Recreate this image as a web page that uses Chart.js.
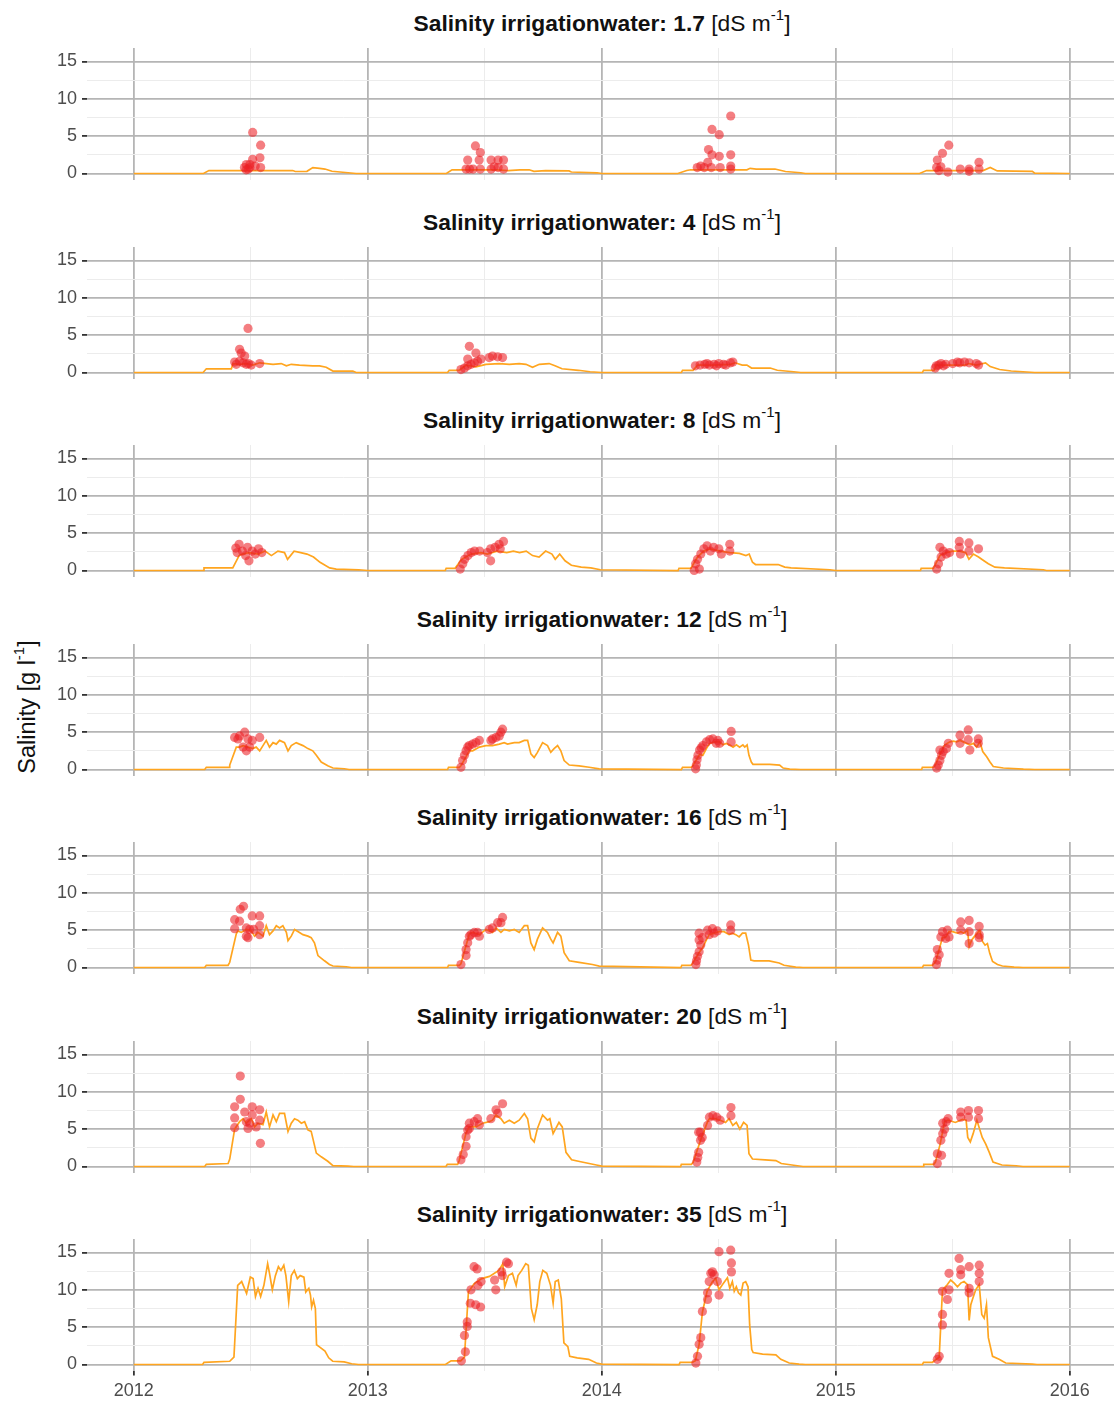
<!DOCTYPE html>
<html>
<head>
<meta charset="utf-8">
<script src="https://cdn.jsdelivr.net/npm/chart.js@4.4.1/dist/chart.umd.min.js"></script>
<style>
  html, body { margin: 0; padding: 0; background: #fff; overflow: hidden; }
  #wrap { position: relative; width: 1114px; height: 1403px; font-family: "Liberation Sans", Arial, sans-serif; }
  .strip { position: absolute; left: 87px; width: 1030px; height: 28px; line-height: 28px; text-align: center;
           font-size: 22.8px; color: #111; white-space: nowrap; }
  .strip b { font-weight: bold; }
  sup { font-size: 15px; vertical-align: baseline; position: relative; top: -11px; }
  .ytitle { position: absolute; left: -123px; top: 693px; width: 300px; height: 28px; line-height: 28px;
            text-align: center; font-size: 23.5px; color: #111; transform: rotate(-90deg); white-space: nowrap; }
  canvas { position: absolute; left: 0; }
</style>
</head>
<body>
<div id="wrap"></div>
<script>
// Irrigation water salinity of each facet [dS m-1]
const salinityLevels = ['1.7', '4', '8', '12', '16', '20', '35'];

// Axis ticks
const xYears = [2012, 2013, 2014, 2015, 2016];
const xHalfYears = [2012.5, 2013.5, 2014.5, 2015.5];
const yMajorTicks = [0, 5, 10, 15];
const yMinorTicks = [2.5, 7.5, 12.5];

// Simulated soil-water salinity (line) and measured samples (points), [decimal year, g/l]
const line_1_7 = [[2012,0],[2012.298,0],[2012.321,0.4],[2012.679,0.4],[2012.69,0.27],[2012.74,0.3],[2012.765,0.8],[2012.794,0.7],[2012.817,0.6],[2012.847,0.3],[2012.916,0.1],[2012.95,0],
  [2013.336,0],[2013.36,0.5],[2013.55,0.5],[2013.6,0.4],[2013.65,0.5],[2013.69,0.5],[2013.71,0.3],[2013.76,0.4],[2013.86,0.35],[2013.87,0.2],[2013.98,0.1],[2014,0],
  [2014.325,0],[2014.363,0.4],[2014.38,0.5],[2014.62,0.5],[2014.634,0.7],[2014.66,0.6],[2014.74,0.6],[2014.785,0.27],[2014.85,0.1],[2014.87,0],
  [2015.358,0],[2015.388,0.4],[2015.63,0.4],[2015.66,0.8],[2015.69,0.35],[2015.84,0.3],[2015.85,0.05],[2016,0]];
const obs_1_7 = [[2012.508,5.5],[2012.542,3.8],[2012.539,2.1],[2012.508,1.9],[2012.496,1.2],[2012.481,1.2],[2012.473,0.8],[2012.496,0.8],[2012.542,0.8],[2012.489,0.6],[2012.519,1.0],[2012.48,0.5],
  [2013.42,0.6],[2013.427,1.8],[2013.435,0.6],[2013.46,3.7],[2013.481,2.8],[2013.476,1.8],[2013.481,0.6],[2013.45,0.6],[2013.527,1.8],[2013.527,0.6],[2013.557,1.8],[2013.557,0.8],[2013.58,1.8],[2013.58,0.6],[2013.54,0.9],
  [2014.471,5.9],[2014.502,5.2],[2014.551,7.7],[2014.456,3.2],[2014.471,2.5],[2014.502,2.3],[2014.551,2.5],[2014.423,1.0],[2014.408,0.8],[2014.438,0.8],[2014.468,0.8],[2014.506,0.8],[2014.551,1.0],[2014.551,0.6],[2014.453,1.5],
  [2015.483,3.8],[2015.456,2.7],[2015.434,1.8],[2015.431,0.8],[2015.441,0.4],[2015.479,0.2],[2015.532,0.6],[2015.57,0.3],[2015.57,0.6],[2015.612,1.5],[2015.612,0.6],[2015.449,0.9]];

const line_4 = [[2012,0],[2012.296,0],[2012.31,0.5],[2012.417,0.5],[2012.424,1.2],[2012.452,1.1],[2012.481,1.2],[2012.509,1.0],[2012.538,1.3],[2012.566,1.2],[2012.595,1.1],[2012.63,1.2],[2012.652,0.9],[2012.673,1.1],[2012.708,1.0],[2012.765,0.9],[2012.794,0.9],[2012.822,0.7],[2012.851,0.2],[2012.936,0.2],[2012.95,0],
  [2013.341,0],[2013.348,0.3],[2013.391,0.3],[2013.42,1.0],[2013.462,0.75],[2013.505,1.1],[2013.562,1.2],[2013.605,1.1],[2013.647,1.2],[2013.676,1.1],[2013.704,0.7],[2013.733,1.1],[2013.775,1.2],[2013.8,0.9],[2013.83,0.5],[2013.9,0.3],[2013.95,0.1],[2014,0],
  [2014.34,0],[2014.345,0.3],[2014.39,0.3],[2014.41,1.0],[2014.47,1.0],[2014.55,1.1],[2014.57,1.3],[2014.6,1.0],[2014.62,1.0],[2014.64,0.6],[2014.72,0.6],[2014.75,0.3],[2014.82,0.1],[2014.85,0],
  [2015.37,0],[2015.375,0.3],[2015.42,0.3],[2015.43,1.0],[2015.55,1.0],[2015.57,1.2],[2015.6,1.0],[2015.64,1.3],[2015.66,0.8],[2015.7,0.4],[2015.75,0.2],[2015.85,0],[2016,0]];
const obs_4 = [[2012.488,5.9],[2012.452,3.1],[2012.459,2.6],[2012.474,2.2],[2012.431,1.4],[2012.452,1.5],[2012.481,1.1],[2012.502,1.0],[2012.538,1.2],[2012.467,1.3],[2012.438,1.1],[2012.49,1.2],
  [2013.398,0.4],[2013.413,0.6],[2013.427,0.9],[2013.441,1.1],[2013.455,1.3],[2013.469,1.5],[2013.427,1.8],[2013.462,2.6],[2013.434,3.5],[2013.519,2.0],[2013.533,2.2],[2013.555,2.1],[2013.576,2.0],[2013.484,1.8],
  [2014.40,0.9],[2014.42,1.0],[2014.44,1.1],[2014.46,1.0],[2014.48,1.1],[2014.50,1.2],[2014.52,1.1],[2014.55,1.3],[2014.56,1.4],[2014.45,1.2],[2014.49,0.9],[2014.53,1.0],
  [2015.425,0.6],[2015.43,0.9],[2015.44,1.0],[2015.45,1.2],[2015.47,1.1],[2015.50,1.2],[2015.52,1.4],[2015.53,1.3],[2015.55,1.4],[2015.57,1.3],[2015.60,1.2],[2015.61,1.0],[2015.46,0.9]];

const line_8 = [[2012,0],[2012.298,0],[2012.30,0.35],[2012.423,0.35],[2012.45,2.0],[2012.464,2.2],[2012.492,2.4],[2012.533,2.2],[2012.561,2.6],[2012.588,2.0],[2012.616,2.6],[2012.644,2.4],[2012.657,1.5],[2012.685,2.6],[2012.713,2.4],[2012.74,2.2],[2012.768,1.8],[2012.796,1.1],[2012.837,0.35],[2012.865,0.2],[2012.961,0.1],[2013,0],
  [2013.331,0],[2013.335,0.3],[2013.373,0.3],[2013.401,1.5],[2013.442,2.2],[2013.483,2.4],[2013.511,2.2],[2013.552,2.6],[2013.594,2.4],[2013.622,2.6],[2013.649,2.4],[2013.677,2.6],[2013.704,2.0],[2013.732,1.8],[2013.76,2.6],[2013.787,2.2],[2013.801,1.5],[2013.82,2.2],[2013.843,1.3],[2013.87,0.7],[2013.912,0.45],[2013.953,0.35],[2013.994,0.1],
  [2014.326,0],[2014.33,0.3],[2014.381,0.3],[2014.409,1.8],[2014.436,2.6],[2014.464,2.9],[2014.506,2.6],[2014.547,2.4],[2014.588,2.3],[2014.616,2.0],[2014.63,2.2],[2014.644,1.1],[2014.657,0.8],[2014.754,0.8],[2014.782,0.45],[2014.809,0.35],[2014.975,0.1],[2015,0],
  [2015.362,0],[2015.365,0.3],[2015.417,0.3],[2015.445,2.0],[2015.472,2.4],[2015.5,2.6],[2015.528,2.6],[2015.555,2.4],[2015.569,1.5],[2015.588,2.2],[2015.61,1.8],[2015.633,1.3],[2015.652,0.9],[2015.68,0.45],[2015.721,0.35],[2015.887,0.1],[2015.9,0],[2016,0]];
const obs_8 = [[2012.436,3.0],[2012.45,3.5],[2012.464,2.6],[2012.478,2.0],[2012.492,1.3],[2012.506,2.6],[2012.519,2.2],[2012.533,2.9],[2012.547,2.4],[2012.442,2.4],[2012.486,3.1],
  [2013.395,0.2],[2013.406,0.9],[2013.414,1.5],[2013.428,2.0],[2013.442,2.4],[2013.456,2.6],[2013.478,2.6],[2013.511,2.4],[2013.525,2.9],[2013.544,3.1],[2013.561,3.5],[2013.58,3.9],[2013.525,1.3],[2013.566,2.9],
  [2014.395,0],[2014.401,0.9],[2014.409,1.5],[2014.423,2.2],[2014.436,2.9],[2014.45,3.3],[2014.464,2.6],[2014.478,3.1],[2014.5,2.9],[2014.511,2.2],[2014.547,3.5],[2014.547,2.6],[2014.417,0.2],
  [2015.431,0.2],[2015.439,0.9],[2015.45,1.8],[2015.459,2.6],[2015.445,3.1],[2015.472,2.2],[2015.528,3.9],[2015.528,3.1],[2015.569,3.7],[2015.569,2.6],[2015.61,2.9],[2015.533,2.2],[2015.486,2.4]];

const line_12 = [[2012,0],[2012.303,0],[2012.31,0.3],[2012.407,0.3],[2012.41,0.6],[2012.438,3.0],[2012.452,3.0],[2012.467,3.2],[2012.488,3.0],[2012.509,2.8],[2012.523,3.0],[2012.538,2.5],[2012.552,3.2],[2012.566,3.9],[2012.58,3.0],[2012.595,3.6],[2012.609,3.4],[2012.623,3.9],[2012.644,3.6],[2012.659,2.5],[2012.673,3.2],[2012.694,3.6],[2012.708,3.4],[2012.723,3.2],[2012.744,2.8],[2012.765,2.5],[2012.78,1.9],[2012.801,1.0],[2012.829,0.5],[2012.851,0.2],[2012.9,0.1],[2012.92,0],
  [2013.341,0],[2013.345,0.3],[2013.391,0.3],[2013.398,0.5],[2013.434,2.5],[2013.448,2.5],[2013.477,3.0],[2013.505,3.2],[2013.533,3.2],[2013.562,3.4],[2013.583,3.6],[2013.597,3.4],[2013.626,3.6],[2013.647,3.6],[2013.669,3.9],[2013.683,3.9],[2013.697,2.1],[2013.711,1.6],[2013.725,2.3],[2013.747,3.6],[2013.768,3.2],[2013.782,2.3],[2013.796,2.8],[2013.811,3.2],[2013.825,2.5],[2013.839,1.2],[2013.861,0.6],[2013.903,0.5],[2013.946,0.3],[2013.989,0.1],
  [2014.34,0],[2014.345,0.3],[2014.382,0.3],[2014.389,0.5],[2014.418,2.0],[2014.432,1.9],[2014.447,2.8],[2014.461,3.5],[2014.482,3.7],[2014.504,3.7],[2014.518,3.3],[2014.532,3.5],[2014.546,3.3],[2014.561,3.0],[2014.575,3.3],[2014.589,3.0],[2014.603,3.3],[2014.611,3.0],[2014.621,3.3],[2014.629,1.9],[2014.639,1.0],[2014.646,0.7],[2014.718,0.7],[2014.76,0.6],[2014.775,0.2],[2014.803,0.05],[2014.85,0],
  [2015.367,0],[2015.37,0.3],[2015.417,0.3],[2015.424,0.5],[2015.452,2.5],[2015.466,3.3],[2015.488,3.7],[2015.502,3.8],[2015.516,3.7],[2015.531,3.9],[2015.545,3.7],[2015.559,3.5],[2015.573,3.3],[2015.588,3.5],[2015.602,3.0],[2015.616,3.7],[2015.628,2.4],[2015.645,1.7],[2015.659,1.0],[2015.673,0.4],[2015.716,0.2],[2015.802,0.05],[2015.85,0],[2016,0]];
const obs_12 = [[2012.431,4.3],[2012.452,4.5],[2012.474,5.0],[2012.488,4.1],[2012.506,3.9],[2012.538,4.3],[2012.467,3.0],[2012.481,2.5],[2012.495,3.0],[2012.445,4.1],
  [2013.398,0.3],[2013.405,1.2],[2013.413,1.9],[2013.42,2.5],[2013.427,3.0],[2013.434,3.2],[2013.448,3.4],[2013.462,3.6],[2013.477,3.9],[2013.526,3.9],[2013.548,4.3],[2013.562,4.5],[2013.576,5.4],[2013.533,4.1],[2013.569,5.0],
  [2014.401,0.1],[2014.404,0.6],[2014.407,1.3],[2014.411,1.9],[2014.418,2.6],[2014.425,2.9],[2014.432,3.2],[2014.447,3.7],[2014.461,4.0],[2014.475,4.1],[2014.496,3.9],[2014.504,3.5],[2014.553,5.1],[2014.553,3.7],[2014.489,3.5],
  [2015.431,0.2],[2015.438,0.6],[2015.445,1.2],[2015.452,1.9],[2015.445,2.6],[2015.459,2.4],[2015.473,2.8],[2015.481,3.5],[2015.531,4.6],[2015.531,3.5],[2015.566,5.3],[2015.566,4.0],[2015.573,2.6],[2015.609,4.1],[2015.609,3.5]];

const line_16 = [[2012,0],[2012.303,0],[2012.31,0.3],[2012.403,0.3],[2012.41,0.7],[2012.438,4.5],[2012.445,4.9],[2012.459,4.7],[2012.481,5.1],[2012.502,4.9],[2012.516,4.2],[2012.531,4.7],[2012.552,4.2],[2012.566,5.6],[2012.58,4.4],[2012.595,4.9],[2012.609,5.6],[2012.623,5.3],[2012.637,5.6],[2012.652,4.7],[2012.659,3.6],[2012.673,4.2],[2012.687,5.1],[2012.708,4.7],[2012.723,4.4],[2012.744,4.2],[2012.758,4.0],[2012.772,3.3],[2012.787,1.6],[2012.815,0.9],[2012.836,0.4],[2012.851,0.2],[2012.908,0.1],[2012.93,0],
  [2013.341,0],[2013.345,0.3],[2013.391,0.3],[2013.398,0.5],[2013.434,4.5],[2013.448,4.7],[2013.477,4.4],[2013.505,5.1],[2013.533,4.7],[2013.548,5.3],[2013.569,4.7],[2013.583,5.1],[2013.605,4.9],[2013.626,5.1],[2013.647,4.7],[2013.669,5.6],[2013.683,5.6],[2013.697,3.3],[2013.711,2.4],[2013.725,3.8],[2013.747,5.3],[2013.768,4.7],[2013.782,3.8],[2013.792,3.3],[2013.811,4.7],[2013.825,4.2],[2013.839,2.0],[2013.861,0.9],[2013.903,0.7],[2013.96,0.4],[2013.989,0.2],
  [2014.338,0],[2014.342,0.3],[2014.38,0.3],[2014.387,0.5],[2014.416,2.0],[2014.43,2.6],[2014.444,3.5],[2014.459,4.4],[2014.48,4.6],[2014.501,4.8],[2014.523,4.8],[2014.544,4.4],[2014.558,4.6],[2014.573,4.4],[2014.587,4.1],[2014.601,4.6],[2014.615,4.6],[2014.627,3.0],[2014.637,1.0],[2014.651,0.9],[2014.715,0.9],[2014.758,0.6],[2014.779,0.3],[2014.829,0.05],[2014.86,0],
  [2015.37,0],[2015.375,0.3],[2015.413,0.3],[2015.427,0.8],[2015.456,4.0],[2015.47,4.1],[2015.484,4.8],[2015.499,4.8],[2015.52,4.6],[2015.534,4.8],[2015.548,4.6],[2015.563,5.0],[2015.57,2.8],[2015.581,3.7],[2015.591,4.1],[2015.605,4.6],[2015.615,5.0],[2015.627,3.5],[2015.638,3.0],[2015.648,3.2],[2015.658,1.9],[2015.67,0.8],[2015.691,0.4],[2015.712,0.2],[2015.762,0.05],[2015.8,0],[2016,0]];
const obs_16 = [[2012.469,8.2],[2012.455,7.8],[2012.431,6.4],[2012.431,5.2],[2012.452,6.2],[2012.481,5.3],[2012.488,4.0],[2012.481,4.2],[2012.495,5.1],[2012.506,6.9],[2012.538,6.9],[2012.538,5.6],[2012.538,4.4],[2012.512,5.1],
  [2013.398,0.4],[2013.42,1.6],[2013.42,2.4],[2013.427,3.3],[2013.434,4.2],[2013.441,4.4],[2013.455,4.7],[2013.469,4.7],[2013.477,4.2],[2013.519,5.1],[2013.533,5.3],[2013.555,6.0],[2013.576,6.7],[2013.569,6.0],
  [2014.402,0.4],[2014.405,0.9],[2014.409,1.5],[2014.416,2.1],[2014.423,3.0],[2014.416,3.7],[2014.43,4.0],[2014.416,4.6],[2014.452,5.0],[2014.473,5.2],[2014.48,4.6],[2014.494,4.9],[2014.551,5.7],[2014.551,5.0],[2014.459,4.4],
  [2015.43,0.4],[2015.434,1.0],[2015.442,1.7],[2015.434,2.4],[2015.449,4.1],[2015.456,4.8],[2015.47,3.9],[2015.477,5.0],[2015.484,4.1],[2015.534,6.1],[2015.534,5.0],[2015.57,6.3],[2015.57,4.8],[2015.57,3.2],[2015.613,5.5],[2015.613,4.4],[2015.613,4.0]];

const line_20 = [[2012,0],[2012.303,0],[2012.31,0.3],[2012.403,0.4],[2012.41,1.0],[2012.431,5.0],[2012.452,6.0],[2012.467,6.4],[2012.481,5.8],[2012.502,6.4],[2012.516,5.3],[2012.531,5.8],[2012.552,5.6],[2012.566,7.3],[2012.58,5.3],[2012.595,6.9],[2012.609,6.0],[2012.623,7.1],[2012.644,7.1],[2012.659,4.7],[2012.673,5.8],[2012.687,6.4],[2012.701,6.2],[2012.716,5.8],[2012.73,6.0],[2012.744,4.9],[2012.758,4.7],[2012.765,3.8],[2012.78,1.8],[2012.801,1.3],[2012.829,0.7],[2012.851,0.13],[2012.915,0.05],[2012.94,0],
  [2013.334,0],[2013.34,0.3],[2013.384,0.3],[2013.391,0.8],[2013.42,4.5],[2013.434,5.3],[2013.462,5.3],[2013.491,5.8],[2013.519,6.0],[2013.533,6.2],[2013.548,6.9],[2013.569,6.4],[2013.583,5.8],[2013.605,6.2],[2013.626,5.8],[2013.647,6.2],[2013.669,7.1],[2013.683,6.4],[2013.697,3.8],[2013.711,3.3],[2013.725,5.1],[2013.747,6.9],[2013.768,6.2],[2013.778,6.4],[2013.792,4.4],[2013.817,5.9],[2013.831,5.3],[2013.847,1.9],[2013.871,0.9],[2013.915,0.6],[2013.977,0.2],[2014,0.05],
  [2014.337,0],[2014.34,0.3],[2014.383,0.3],[2014.391,0.6],[2014.422,3.5],[2014.452,6.0],[2014.46,6.4],[2014.483,6.4],[2014.506,6.2],[2014.529,5.9],[2014.544,6.4],[2014.56,5.5],[2014.575,5.9],[2014.59,5.0],[2014.606,5.9],[2014.621,5.5],[2014.629,1.7],[2014.644,1.0],[2014.698,0.9],[2014.744,0.8],[2014.767,0.4],[2014.836,0.1],[2014.86,0],
  [2015.373,0],[2015.376,0.3],[2015.419,0.3],[2015.426,0.6],[2015.446,3.0],[2015.465,6.0],[2015.48,6.2],[2015.511,5.9],[2015.541,6.3],[2015.557,6.2],[2015.564,3.9],[2015.575,3.3],[2015.587,4.4],[2015.603,6.2],[2015.61,5.5],[2015.626,3.9],[2015.641,3.0],[2015.656,1.9],[2015.672,0.6],[2015.71,0.2],[2015.771,0.1],[2015.8,0],[2016,0]];
const obs_20 = [[2012.455,12.1],[2012.455,9.0],[2012.431,8.0],[2012.431,6.5],[2012.431,5.2],[2012.474,7.3],[2012.481,6.0],[2012.488,5.1],[2012.506,8.0],[2012.506,6.9],[2012.538,7.6],[2012.538,6.2],[2012.541,3.1],[2012.523,5.3],[2012.495,5.8],
  [2013.398,0.9],[2013.408,1.6],[2013.42,2.7],[2013.42,4.0],[2013.427,4.9],[2013.434,5.8],[2013.434,5.1],[2013.455,6.0],[2013.469,6.4],[2013.477,5.6],[2013.526,6.4],[2013.548,7.6],[2013.576,8.4],[2013.555,7.1],
  [2014.406,0.6],[2014.41,1.2],[2014.414,1.9],[2014.422,3.5],[2014.422,4.6],[2014.414,4.6],[2014.429,3.9],[2014.452,5.5],[2014.46,6.6],[2014.475,6.8],[2014.491,6.6],[2014.506,6.2],[2014.552,6.8],[2014.552,7.9],
  [2015.434,0.4],[2015.434,1.7],[2015.452,1.5],[2015.449,3.5],[2015.457,4.4],[2015.457,5.8],[2015.472,6.0],[2015.48,6.4],[2015.534,7.3],[2015.534,6.6],[2015.567,7.5],[2015.567,6.6],[2015.61,7.5],[2015.61,6.4],[2015.465,5.0]];

const line_35 = [[2012,0],[2012.294,0],[2012.3,0.3],[2012.41,0.44],[2012.428,1.0],[2012.444,10.6],[2012.461,11.1],[2012.482,9.5],[2012.498,11.7],[2012.51,11.5],[2012.52,9.1],[2012.531,10.2],[2012.542,9.1],[2012.556,10.6],[2012.572,13.5],[2012.58,12.2],[2012.592,10.0],[2012.605,11.9],[2012.618,13.1],[2012.629,12.6],[2012.641,13.3],[2012.65,11.9],[2012.662,8.4],[2012.673,11.9],[2012.686,12.6],[2012.699,11.5],[2012.711,11.9],[2012.727,11.7],[2012.735,9.7],[2012.748,10.2],[2012.755,9.3],[2012.76,7.7],[2012.768,8.6],[2012.776,7.5],[2012.781,2.65],[2012.792,2.4],[2012.817,1.8],[2012.833,0.9],[2012.85,0.44],[2012.899,0.35],[2012.931,0.1],[2012.96,0],
  [2013.332,0],[2013.356,0.5],[2013.397,0.5],[2013.413,1.0],[2013.43,9.7],[2013.454,10.8],[2013.487,11.5],[2013.52,11.8],[2013.56,12.6],[2013.577,13.5],[2013.585,10.4],[2013.601,11.9],[2013.618,12.2],[2013.634,10.6],[2013.642,11.9],[2013.658,12.6],[2013.675,13.5],[2013.686,13.3],[2013.699,7.5],[2013.711,6.0],[2013.724,8.0],[2013.735,11.1],[2013.748,12.6],[2013.765,12.2],[2013.781,10.6],[2013.792,8.2],[2013.801,11.1],[2013.814,11.3],[2013.827,8.8],[2013.838,2.9],[2013.855,2.4],[2013.863,1.1],[2013.895,0.9],[2013.944,0.7],[2013.977,0.2],[2014,0.05],
  [2014.33,0],[2014.335,0.3],[2014.387,0.3],[2014.40,0.5],[2014.416,2.7],[2014.43,7.0],[2014.45,9.8],[2014.473,11.1],[2014.487,11.5],[2014.501,10.0],[2014.516,10.7],[2014.537,11.6],[2014.547,10.2],[2014.558,11.1],[2014.566,9.8],[2014.575,10.4],[2014.584,9.6],[2014.594,9.3],[2014.604,10.9],[2014.615,11.1],[2014.625,10.4],[2014.632,5.3],[2014.641,2.0],[2014.647,1.6],[2014.687,1.4],[2014.744,1.3],[2014.765,0.7],[2014.801,0.2],[2014.843,0.05],[2014.87,0],
  [2015.37,0],[2015.375,0.3],[2015.413,0.3],[2015.442,1.0],[2015.456,10.0],[2015.477,10.7],[2015.491,11.3],[2015.506,10.9],[2015.52,10.4],[2015.534,10.9],[2015.548,11.1],[2015.563,10.7],[2015.57,5.9],[2015.577,8.0],[2015.584,8.7],[2015.598,10.0],[2015.613,10.7],[2015.624,6.7],[2015.634,6.2],[2015.644,8.0],[2015.652,3.6],[2015.67,1.1],[2015.698,0.7],[2015.726,0.2],[2015.84,0.05],[2015.86,0],[2016,0]];
const obs_35 = [[2013.4,0.5],[2013.417,1.7],[2013.413,3.9],[2013.425,5.1],[2013.425,5.7],[2013.438,8.2],[2013.441,10.0],[2013.454,13.1],[2013.467,12.8],[2013.461,8.0],[2013.482,7.7],[2013.471,10.6],[2013.484,11.1],[2013.542,11.3],[2013.547,10.0],[2013.572,12.4],[2013.575,11.9],[2013.593,13.7],[2013.601,13.5],
  [2014.402,0.2],[2014.409,1.1],[2014.416,2.7],[2014.423,3.6],[2014.43,7.1],[2014.452,8.7],[2014.452,9.6],[2014.459,11.1],[2014.466,12.2],[2014.473,12.4],[2014.48,12.0],[2014.494,11.1],[2014.501,9.3],[2014.501,15.1],[2014.551,15.3],[2014.554,13.6],[2014.554,12.4],
  [2015.434,0.7],[2015.442,1.1],[2015.456,5.3],[2015.456,6.7],[2015.456,9.8],[2015.477,8.7],[2015.484,12.2],[2015.484,10.0],[2015.527,14.2],[2015.534,12.7],[2015.534,12.0],[2015.57,13.1],[2015.57,10.2],[2015.613,13.3],[2015.613,12.2],[2015.613,11.1],[2015.57,9.6]];

const lineSeries = [line_1_7, line_4, line_8, line_12, line_16, line_20, line_35];
const obsSeries = [obs_1_7, obs_4, obs_8, obs_12, obs_16, obs_20, obs_35];

// Facet geometry (pixel row of the zero line in each panel)
const zeroRows = [173, 372, 570, 769, 967, 1166, 1364];
const X_MIN = 2011.8, X_MAX = 2016.189;
const Y_MIN = -0.8, Y_MAX = 16.8;
const FONT = '"Liberation Sans", Arial, sans-serif';
const MAJOR = '#b5b5b5', MINOR = '#ececec';

const wrap = document.getElementById('wrap');

const yTitle = document.createElement('div');
yTitle.className = 'ytitle';
yTitle.innerHTML = 'Salinity [g l<sup>-1</sup>]';
wrap.appendChild(yTitle);

const toXY = arr => arr.map(([x, y]) => ({ x, y }));

// keep the plot area fixed: no extra room for overhanging tick labels
const noOverhang = s => { s.paddingTop = 0; s.paddingBottom = 0; s.paddingLeft = 0; s.paddingRight = 0; };

salinityLevels.forEach((level, i) => {
  const isLast = i === salinityLevels.length - 1;
  const y0 = zeroRows[i];

  const strip = document.createElement('div');
  strip.className = 'strip';
  strip.style.top = (y0 - 164) + 'px';
  strip.innerHTML = '<b>Salinity irrigationwater: ' + level + '</b> [dS m<sup>-1</sup>]';
  wrap.appendChild(strip);

  const canvas = document.createElement('canvas');
  const h = isLast ? 180 : 142;
  canvas.width = 1114; canvas.height = h;
  canvas.style.width = '1114px'; canvas.style.height = h + 'px';
  canvas.style.top = (y0 - 130) + 'px';
  wrap.appendChild(canvas);

  new Chart(canvas, {
    type: 'scatter',
    data: {
      datasets: [
        { data: toXY(obsSeries[i]), pointRadius: 4.6, pointHoverRadius: 4.6,
          pointBackgroundColor: 'rgba(236,32,38,0.58)', pointBorderWidth: 0, order: 0 },
        { data: toXY(lineSeries[i]), showLine: true, borderColor: '#FFA51F', borderWidth: 1.7,
          pointRadius: 0, pointHoverRadius: 0, tension: 0, order: 1 }
      ]
    },
    options: {
      responsive: false, animation: false, events: [],
      layout: { autoPadding: false, padding: { top: 5, right: 0, bottom: 0, left: 0 } },
      plugins: { legend: { display: false }, tooltip: { enabled: false } },
      scales: {
        x: {
          type: 'linear', min: X_MIN, max: X_MAX,
          afterBuildTicks: s => { s.ticks = xYears.concat(xHalfYears).sort((a, b) => a - b).map(v => ({ value: v })); },
          afterFit: s => { s.height = h - 136.5; noOverhang(s); },
          border: { display: false },
          grid: {
            color: c => (c.tick && Number.isInteger(c.tick.value)) ? MAJOR : MINOR,
            lineWidth: c => (c.tick && Number.isInteger(c.tick.value)) ? 1.8 : 1,
            drawTicks: isLast, tickLength: 5,
            tickColor: c => (c.tick && Number.isInteger(c.tick.value)) ? '#333' : 'rgba(0,0,0,0)'
          },
          ticks: {
            display: isLast, autoSkip: false, maxRotation: 0, padding: 5, color: '#4d4d4d',
            font: { family: FONT, size: 18 },
            callback: v => xYears.includes(v) ? String(v) : ''
          }
        },
        y: {
          min: Y_MIN, max: Y_MAX,
          afterBuildTicks: s => { s.ticks = yMajorTicks.concat(yMinorTicks).sort((a, b) => a - b).map(v => ({ value: v })); },
          afterFit: s => { s.width = 87; noOverhang(s); },
          border: { display: false },
          grid: {
            color: c => (c.tick && yMajorTicks.includes(c.tick.value)) ? MAJOR : MINOR,
            lineWidth: c => (c.tick && yMajorTicks.includes(c.tick.value)) ? 1.8 : 1,
            drawTicks: true, tickLength: 5,
            tickColor: c => (c.tick && yMajorTicks.includes(c.tick.value)) ? '#333' : 'rgba(0,0,0,0)'
          },
          ticks: {
            autoSkip: false, padding: 5, color: '#4d4d4d',
            font: { family: FONT, size: 18 },
            callback: v => yMajorTicks.includes(v) ? String(v) : ''
          }
        }
      }
    }
  });
});
</script>
</body>
</html>
